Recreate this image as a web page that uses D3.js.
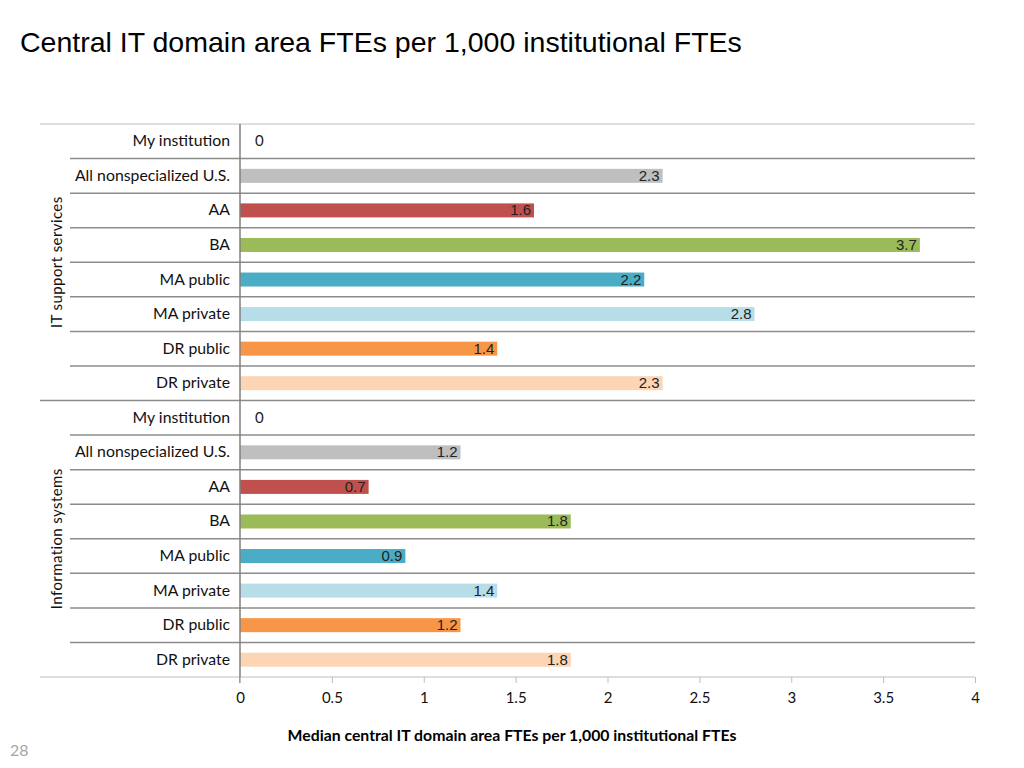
<!DOCTYPE html>
<html>
<head>
<meta charset="utf-8">
<script src="https://cdn.jsdelivr.net/npm/d3@7"></script>
<style>
  body { margin: 0; background: #fff; }
  svg { display: block; }
</style>
</head>
<body>
<svg></svg>
<script>
const width = 1024, height = 768;
const margin = {top: 124, right: 49, bottom: 91, left: 240};

// data
const groups = ["IT support services", "Information systems"];
const categories = ["My institution", "All nonspecialized U.S.", "AA", "BA", "MA public", "MA private", "DR public", "DR private"];
const itSupport = [0, 2.3, 1.6, 3.7, 2.2, 2.8, 1.4, 2.3];
const infoSystems = [0, 1.2, 0.7, 1.8, 0.9, 1.4, 1.2, 1.8];
const colors = ["#bfbfbf", "#bfbfbf", "#c0504d", "#9bbb59", "#4bacc6", "#b7dee8", "#f79646", "#fcd5b5"];
const xTicks = [0, 0.5, 1, 1.5, 2, 2.5, 3, 3.5, 4];

const rows = [];
[itSupport, infoSystems].forEach((vals, g) => {
  categories.forEach((c, i) => {
    rows.push({key: g + "-" + i, group: g, cat: c, value: vals[i], color: colors[i], idx: i});
  });
});

let svg = d3.select("svg").attr("width", width).attr("height", height);

svg.append("text")
  .attr("x", 20).attr("y", 52)
  .attr("font-family", "Liberation Sans, Arial, sans-serif")
  .attr("font-size", 28.5)
  .attr("fill", "#000")
  .text("Central IT domain area FTEs per 1,000 institutional FTEs");

let x = d3.scaleLinear().domain([0, 4]).range([margin.left, width - margin.right]);
let y = d3.scaleBand().domain(rows.map(r => r.key)).range([margin.top, height - margin.bottom]).paddingInner(0).paddingOuter(0);
const step = y.step();
const barH = 14;

// row separators
const bounds = d3.range(0, rows.length + 1);
svg.selectAll("line.sep")
  .data(bounds)
  .enter()
  .append("line")
  .attr("class", "sep")
  .attr("x1", i => (i % 8 === 0) ? 40 : 70)
  .attr("x2", x(4))
  .attr("y1", i => margin.top + i * step)
  .attr("y2", i => margin.top + i * step)
  .attr("stroke", i => (i === 0 || i === rows.length) ? "#bdbdbd" : "#8c8c8c")
  .attr("stroke-width", i => (i === 0 || i === rows.length) ? 1.2 : 1.5);

// bars
svg.selectAll("rect.bar")
  .data(rows.filter(r => r.value > 0))
  .enter()
  .append("rect")
  .attr("class", "bar")
  .attr("x", x(0))
  .attr("y", r => y(r.key) + step / 2 - barH / 2)
  .attr("width", r => x(r.value) - x(0))
  .attr("height", barH)
  .attr("fill", r => r.color);

// value labels
svg.selectAll("text.val")
  .data(rows)
  .enter()
  .append("text")
  .attr("class", "val")
  .attr("x", r => r.value > 0 ? x(r.value) - 3 : x(0) + 15)
  .attr("y", r => y(r.key) + step / 2 + 5)
  .attr("text-anchor", r => r.value > 0 ? "end" : "start")
  .attr("font-family", r => r.value > 0 ? "Liberation Sans, Arial, sans-serif" : "Lato, sans-serif")
  .attr("font-size", 15)
  .attr("fill", "#222")
  .text(r => r.value);

// category labels
svg.selectAll("text.cat")
  .data(rows)
  .enter()
  .append("text")
  .attr("class", "cat")
  .attr("x", 230)
  .attr("y", r => y(r.key) + step / 2 + 5)
  .attr("text-anchor", "end")
  .attr("font-family", "Lato, sans-serif")
  .attr("font-size", 15.8)
  .attr("fill", "#111")
  .text(r => r.cat);

// group labels
svg.selectAll("text.grp")
  .data(groups)
  .enter()
  .append("text")
  .attr("class", "grp")
  .attr("transform", (g, i) => `translate(62, ${margin.top + (i * 8 + 4) * step}) rotate(-90)`)
  .attr("text-anchor", "middle")
  .attr("font-family", "Lato, sans-serif")
  .attr("font-size", 15)
  .attr("letter-spacing", 0.4)
  .attr("fill", "#111")
  .text(g => g);

// vertical axis line
svg.append("line")
  .attr("x1", x(0)).attr("x2", x(0))
  .attr("y1", margin.top).attr("y2", height - margin.bottom + 6)
  .attr("stroke", "#7f7f7f")
  .attr("stroke-width", 1.5);

// x axis
let xAxis = d3.axisBottom(x).tickValues(xTicks).tickSize(6).tickPadding(9).tickFormat(d => d);
let gx = svg.append("g")
  .attr("transform", `translate(0, ${height - margin.bottom})`)
  .call(xAxis);
gx.select(".domain").remove();
gx.selectAll(".tick line").attr("stroke", "#bdbdbd");
gx.selectAll(".tick text")
  .attr("font-family", "Lato, sans-serif")
  .attr("font-size", 15)
  .attr("fill", "#111");

svg.append("text")
  .attr("x", 512).attr("y", 741)
  .attr("text-anchor", "middle")
  .attr("font-family", "Lato, sans-serif")
  .attr("font-weight", "bold")
  .attr("font-size", 15.8)
  .attr("fill", "#000")
  .text("Median central IT domain area FTEs per 1,000 institutional FTEs");

svg.append("text")
  .attr("x", 10).attr("y", 756)
  .attr("font-family", "Lato, sans-serif")
  .attr("font-size", 16)
  .attr("fill", "#a6a6a6")
  .text("28");
</script>
</body>
</html>
